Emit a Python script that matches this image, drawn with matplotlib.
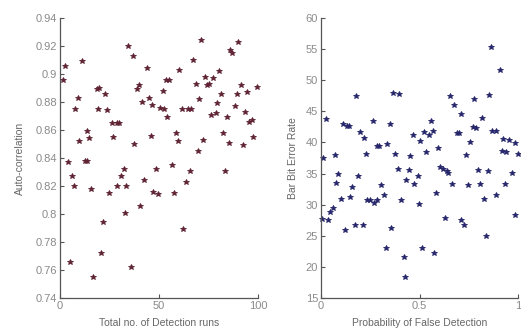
import matplotlib
matplotlib.use("Agg")
import matplotlib.pyplot as plt
from matplotlib.ticker import FuncFormatter

plt.rcParams['font.family'] = ['Liberation Sans', 'DejaVu Sans']

runs = [2.7, 1.7, 10.9, 9.1, 7.7, 9.8, 13.8, 14.8, 4.2, 12.6, 13.6, 18.5, 19.9, 22.9,
        19.0, 23.9, 26.3, 28.6, 30.0, 26.6, 34.5, 36.7, 37.6, 38.7, 40.1, 43.8, 41.4,
        44.8, 46.5, 45.8, 51.9, 50.5, 52.5, 54.2, 53.4, 55.2, 58.4, 59.8, 60.3, 61.4,
        64.8, 66.0, 67.3, 68.5, 70.4, 71.4, 69.5, 72.4, 73.1, 74.4, 75.4, 77.4, 76.1,
        78.8, 79.5, 80.2, 81.2, 82.2, 84.2, 85.5, 85.9, 87.0, 88.2, 89.6, 90.1, 91.2,
        92.6, 93.6, 94.6, 95.6, 96.9, 97.3, 99.3, 6.2, 6.9, 15.7, 5.1, 16.8, 20.5,
        21.7, 24.9, 28.8, 30.8, 32.2, 33.5, 32.8, 35.7, 40.4, 42.6, 48.3, 47.1, 49.5,
        56.4, 57.4, 63.5, 65.5, 62.3, 83.3]
autocorr = [0.906, 0.896, 0.909, 0.883, 0.875, 0.852, 0.859, 0.854, 0.837, 0.838, 0.838,
            0.889, 0.890, 0.886, 0.875, 0.874, 0.865, 0.865, 0.865, 0.855, 0.920, 0.913,
            0.850, 0.889, 0.892, 0.904, 0.880, 0.883, 0.878, 0.856, 0.888, 0.876, 0.875,
            0.869, 0.896, 0.896, 0.858, 0.852, 0.903, 0.875, 0.875, 0.875, 0.910, 0.893,
            0.882, 0.924, 0.845, 0.853, 0.898, 0.892, 0.893, 0.897, 0.871, 0.872, 0.879,
            0.902, 0.886, 0.858, 0.869, 0.851, 0.917, 0.915, 0.877, 0.886, 0.923, 0.892,
            0.849, 0.873, 0.887, 0.866, 0.867, 0.855, 0.891, 0.827, 0.820, 0.818, 0.766,
            0.755, 0.772, 0.794, 0.815, 0.820, 0.827, 0.832, 0.820, 0.801, 0.762, 0.806,
            0.824, 0.832, 0.816, 0.814, 0.835, 0.815, 0.823, 0.831, 0.789, 0.831]

p_false = [0.025, 0.012, 0.069, 0.110, 0.133, 0.144, 0.177, 0.198, 0.218, 0.228, 0.262,
           0.282, 0.296, 0.336, 0.350, 0.363, 0.394, 0.375, 0.389, 0.454, 0.468, 0.502,
           0.525, 0.547, 0.559, 0.569, 0.535, 0.596, 0.606, 0.657, 0.677, 0.688, 0.701,
           0.711, 0.735, 0.755, 0.775, 0.772, 0.785, 0.816, 0.853, 0.863, 0.907, 0.870,
           0.887, 0.924, 0.954, 0.985, 0.917, 0.941, 0.998,
           0.005, 0.037, 0.046, 0.059, 0.076, 0.086, 0.100, 0.120, 0.147, 0.157, 0.171,
           0.187, 0.211, 0.235, 0.248, 0.269, 0.282, 0.306, 0.319, 0.328, 0.355, 0.407,
           0.421, 0.427, 0.434, 0.448, 0.471, 0.491, 0.498, 0.515, 0.573, 0.586, 0.620,
           0.628, 0.640, 0.645, 0.667, 0.709, 0.726, 0.748, 0.796, 0.806, 0.829, 0.850,
           0.840, 0.887, 0.934, 0.968, 0.985]
ber = [43.8, 37.5, 38.0, 43.0, 42.6, 42.6, 47.4, 41.7, 40.7, 38.2, 43.4, 39.4, 39.4,
       39.8, 43.0, 47.9, 47.8, 38.1, 35.8, 37.9, 41.2, 40.2, 41.6, 41.2, 43.4, 41.9,
       38.4, 39.1, 36.0, 47.4, 46.0, 41.5, 41.5, 44.5, 38.0, 40.0, 47.0, 42.5, 42.4,
       44.0, 47.7, 55.3, 51.6, 41.8, 41.9, 40.5, 40.4, 39.9, 38.6, 38.5, 38.2,
       27.7, 27.6, 28.8, 29.4, 33.5, 34.9, 30.9, 26.0, 31.2, 32.9, 26.8, 34.6, 26.8,
       30.8, 30.8, 30.3, 30.7, 33.2, 31.6, 23.0, 26.3, 30.7, 21.6, 18.3, 34.0, 35.5,
       33.3, 34.6, 30.1, 23.0, 22.2, 31.8, 35.8, 27.8, 35.4, 35.1, 33.4, 27.6, 26.8,
       33.1, 35.6, 33.3, 30.9, 35.4, 24.9, 31.6, 33.4, 35.1, 28.4]

left_yticks = [0.74, 0.76, 0.78, 0.80, 0.82, 0.84, 0.86, 0.88, 0.90, 0.92, 0.94]
left_xticks = [0, 50, 100]
right_yticks = [15, 20, 25, 30, 35, 40, 45, 50, 55, 60]
right_xticks = [0, 0.5, 1]

W, H = 521, 331
fig = plt.figure(figsize=(W / 100, H / 100), dpi=100)

ax1 = fig.add_axes([60 / W, 1 - 298 / H, 198 / W, 280 / H])
ax2 = fig.add_axes([321 / W, 1 - 298 / H, 197 / W, 280 / H])

tick_col = '#8a8a8a'
axis_col = '#555555'
lab_col = '#666666'
gfmt = FuncFormatter(lambda v, p: ('%g' % round(v, 6)))

def style(ax):
    for s in ['top', 'right']:
        ax.spines[s].set_visible(False)
    for s in ['left', 'bottom']:
        ax.spines[s].set_color(axis_col)
        ax.spines[s].set_linewidth(0.9)
    ax.tick_params(direction='in', length=3, width=0.8, colors=axis_col,
                   labelcolor=tick_col, labelsize=8, pad=2)
    ax.xaxis.set_major_formatter(gfmt)
    ax.yaxis.set_major_formatter(gfmt)

ax1.plot(runs, autocorr, linestyle='none', marker='*', markersize=4,
         color='#5e2232', markeredgewidth=0.6, clip_on=False)
ax1.set_xlim(0, 100)
ax1.set_ylim(0.74, 0.94)
ax1.set_xticks(left_xticks)
ax1.set_yticks(left_yticks)
style(ax1)
ax1.set_xlabel('Total no. of Detection runs', fontsize=7.5, color=lab_col, labelpad=5)
ax1.set_ylabel('Auto-correlation', fontsize=7.5, color=lab_col, labelpad=8)

ax2.plot(p_false, ber, linestyle='none', marker='*', markersize=4,
         color='#25256a', markeredgewidth=0.6, clip_on=False)
ax2.set_xlim(0, 1)
ax2.set_ylim(15, 60)
ax2.set_xticks(right_xticks)
ax2.set_yticks(right_yticks)
style(ax2)
ax2.set_xlabel('Probability of False Detection', fontsize=7.5, color=lab_col, labelpad=5)
ax2.set_ylabel('Bar Bit Error Rate', fontsize=7.5, color=lab_col, labelpad=6)

fig.savefig('out.png', dpi=100)
